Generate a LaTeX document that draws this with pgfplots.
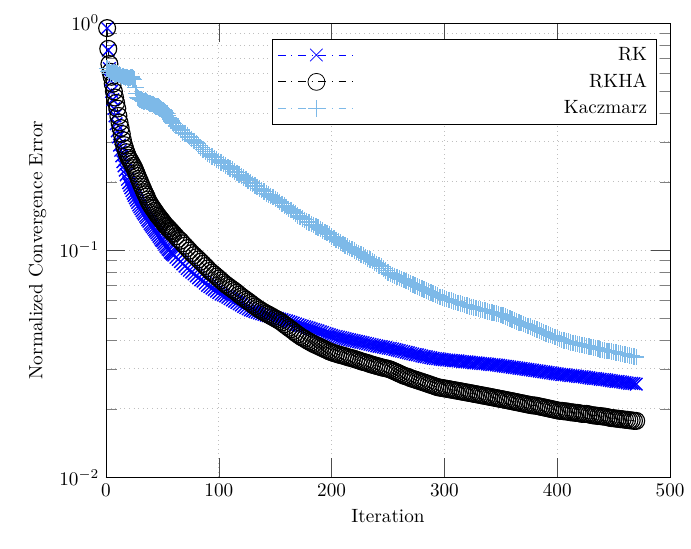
\documentclass[border=0pt]{standalone}
\usepackage{pgfplots}
\usepackage{pgfplotstable}
\pgfplotsset{compat=1.18}
\definecolor{kac}{RGB}{125,185,232}
\pgfplotstableread{
x rk rkha kac
1 0.95 0.95 0.63
2 0.76 0.77 0.61
3 0.63 0.66 0.62
4 0.56 0.61 0.60
5 0.50 0.58 0.61
6 0.46 0.54 0.60
7 0.42 0.50 0.61
8 0.39 0.47 0.59
9 0.36 0.445 0.60
10 0.335 0.42 0.60
11 0.315 0.39 0.59
12 0.29 0.365 0.595
13 0.275 0.345 0.59
14 0.26 0.325 0.58
15 0.245 0.305 0.585
16 0.235 0.29 0.58
17 0.225 0.28 0.575
18 0.215 0.27 0.58
19 0.205 0.262 0.575
20 0.198 0.255 0.57
21 0.193 0.25 0.572
22 0.188 0.245 0.575
23 0.183 0.24 0.578
24 0.178 0.235 0.57
25 0.174 0.23 0.565
26 0.170 0.224 0.52
27 0.166 0.218 0.49
28 0.162 0.212 0.47
29 0.158 0.206 0.465
30 0.155 0.201 0.46
31 0.152 0.195 0.46
32 0.149 0.19 0.455
33 0.146 0.185 0.452
34 0.144 0.18 0.45
35 0.141 0.176 0.455
36 0.139 0.172 0.452
37 0.136 0.167 0.448
38 0.134 0.163 0.445
39 0.131 0.16 0.442
40 0.129 0.157 0.44
41 0.127 0.154 0.44
42 0.125 0.152 0.437
43 0.123 0.149 0.433
44 0.121 0.147 0.43
45 0.119 0.144 0.43
46 0.117 0.142 0.428
47 0.115 0.14 0.424
48 0.113 0.138 0.42
49 0.111 0.136 0.418
50 0.110 0.134 0.415
51 0.108 0.132 0.414
52 0.106 0.130 0.41
53 0.104 0.128 0.405
54 0.103 0.127 0.40
55 0.101 0.125 0.392
56 0.100 0.124 0.385
57 0.098 0.122 0.378
58 0.097 0.121 0.37
59 0.096 0.119 0.365
60 0.095 0.118 0.36
62 0.093 0.115 0.352
64 0.091 0.112 0.345
66 0.089 0.110 0.338
68 0.087 0.107 0.330
70 0.085 0.1045 0.326
72 0.083 0.102 0.322
74 0.0815 0.0995 0.315
76 0.080 0.097 0.308
78 0.0785 0.095 0.302
80 0.077 0.093 0.296
82 0.0755 0.091 0.289
84 0.074 0.089 0.283
86 0.073 0.087 0.277
88 0.0715 0.085 0.272
90 0.070 0.083 0.267
92 0.069 0.081 0.262
94 0.068 0.0795 0.258
96 0.067 0.078 0.255
98 0.066 0.0765 0.251
100 0.065 0.075 0.247
102 0.064 0.0735 0.243
104 0.0635 0.0720 0.240
106 0.0628 0.0707 0.236
108 0.062 0.0695 0.232
110 0.0611 0.0683 0.229
112 0.0603 0.0672 0.226
114 0.0595 0.0661 0.222
116 0.0588 0.0650 0.219
118 0.058 0.0637 0.215
120 0.0573 0.0625 0.212
122 0.0565 0.0615 0.209
124 0.0558 0.0605 0.206
126 0.0551 0.0595 0.202
128 0.0545 0.0585 0.199
130 0.0541 0.0575 0.196
132 0.0537 0.0565 0.193
134 0.0532 0.0556 0.190
136 0.0528 0.0548 0.187
138 0.0524 0.054 0.184
140 0.0521 0.0533 0.181
142 0.0517 0.0526 0.178
144 0.0514 0.0520 0.176
146 0.051 0.0513 0.173
148 0.0506 0.0507 0.171
150 0.0503 0.05 0.168
152 0.0500 0.0494 0.166
154 0.0497 0.0487 0.163
156 0.0494 0.0480 0.160
158 0.0491 0.0471 0.157
160 0.0488 0.0463 0.155
162 0.0484 0.0455 0.152
164 0.0481 0.0448 0.150
166 0.0477 0.044 0.147
168 0.0473 0.0432 0.145
170 0.0469 0.0425 0.142
172 0.0466 0.0418 0.140
174 0.0463 0.0412 0.138
176 0.0460 0.0407 0.136
178 0.0457 0.0401 0.134
180 0.0454 0.0396 0.132
182 0.045 0.0391 0.130
184 0.0447 0.0386 0.129
186 0.0444 0.0382 0.127
188 0.0441 0.0378 0.126
190 0.0437 0.0374 0.124
192 0.0434 0.0370 0.122
194 0.043 0.0366 0.120
196 0.0427 0.0362 0.119
198 0.0424 0.0358 0.117
200 0.0421 0.0355 0.115
202 0.0418 0.0352 0.113
204 0.0416 0.0350 0.111
206 0.0414 0.0347 0.1095
208 0.0412 0.0345 0.108
210 0.041 0.0343 0.1065
212 0.0407 0.0341 0.105
214 0.0405 0.0338 0.1035
216 0.0403 0.0336 0.102
218 0.0401 0.0334 0.101
220 0.0399 0.0332 0.0995
222 0.0397 0.0329 0.0982
224 0.0395 0.0327 0.0970
226 0.0393 0.0324 0.0957
228 0.0391 0.0322 0.0945
230 0.0389 0.032 0.0932
232 0.0387 0.0318 0.0920
234 0.0385 0.0315 0.0907
236 0.0383 0.0313 0.0895
238 0.0381 0.0311 0.0882
240 0.0379 0.0309 0.0870
242 0.0377 0.0307 0.0857
244 0.0376 0.0305 0.0845
246 0.0374 0.0303 0.0828
248 0.0372 0.0302 0.0812
250 0.037 0.03 0.0798
252 0.0369 0.0298 0.0784
254 0.0367 0.0295 0.0776
256 0.0365 0.0292 0.0768
258 0.0363 0.0289 0.076
260 0.0361 0.0286 0.0752
262 0.0359 0.0283 0.0745
264 0.0357 0.0280 0.0738
266 0.0355 0.0278 0.073
268 0.0353 0.0276 0.0722
270 0.0351 0.0273 0.0714
272 0.0349 0.0271 0.0707
274 0.0347 0.0269 0.0699
276 0.0346 0.0267 0.0692
278 0.0344 0.0265 0.0684
280 0.0342 0.0263 0.0677
282 0.034 0.0261 0.067
284 0.0339 0.0259 0.0664
286 0.0337 0.0257 0.0657
288 0.0336 0.0255 0.0651
290 0.0334 0.0253 0.0644
292 0.0333 0.0251 0.0637
294 0.0332 0.0249 0.063
296 0.0331 0.0248 0.0623
298 0.033 0.0247 0.0618
300 0.0329 0.0246 0.0613
302 0.0328 0.0245 0.0608
304 0.0328 0.0244 0.0604
306 0.0327 0.0243 0.0599
308 0.0326 0.0242 0.0595
310 0.0325 0.0241 0.059
312 0.0325 0.0240 0.0586
314 0.0324 0.0239 0.0582
316 0.0323 0.0238 0.0578
318 0.0322 0.0237 0.0574
320 0.0322 0.0236 0.0570
322 0.0321 0.0235 0.0566
324 0.0320 0.0234 0.0562
326 0.0319 0.0233 0.0558
328 0.0319 0.0232 0.0555
330 0.0318 0.0231 0.0551
332 0.0317 0.0230 0.0548
334 0.0316 0.0229 0.0544
336 0.0316 0.0228 0.0541
338 0.0315 0.0227 0.0538
340 0.0314 0.0226 0.0535
342 0.0313 0.0225 0.0532
344 0.0313 0.0224 0.0529
346 0.0312 0.0223 0.0526
348 0.0311 0.0222 0.0523
350 0.031 0.0221 0.0518
352 0.0309 0.0220 0.0514
354 0.0308 0.0219 0.0509
356 0.0307 0.0218 0.0504
358 0.0306 0.0217 0.05
360 0.0305 0.0216 0.0495
362 0.0304 0.0215 0.049
364 0.0303 0.0214 0.0486
366 0.0302 0.0213 0.0481
368 0.0301 0.0212 0.0477
370 0.03 0.0211 0.0472
372 0.0299 0.0210 0.0468
374 0.0298 0.0209 0.0464
376 0.0297 0.0208 0.0460
378 0.0296 0.0207 0.0455
380 0.0295 0.0207 0.0451
382 0.0294 0.0206 0.0446
384 0.0293 0.0205 0.0442
386 0.0292 0.0204 0.0438
388 0.0291 0.0203 0.0434
390 0.029 0.0202 0.043
392 0.0289 0.0201 0.0426
394 0.0288 0.02 0.0422
396 0.0287 0.0199 0.0418
398 0.0286 0.0198 0.0414
400 0.0285 0.0197 0.0410
402 0.0284 0.0196 0.0406
404 0.0283 0.0196 0.0402
406 0.0283 0.0195 0.04
408 0.0282 0.0195 0.0397
410 0.0281 0.0194 0.0395
412 0.0280 0.0193 0.0392
414 0.028 0.0193 0.039
416 0.0279 0.0192 0.0388
418 0.0278 0.0192 0.0386
420 0.0277 0.0191 0.0384
422 0.0277 0.019 0.0382
424 0.0276 0.0190 0.0380
426 0.0275 0.019 0.0378
428 0.0274 0.0189 0.0376
430 0.0273 0.0188 0.0374
432 0.0272 0.0187 0.0372
434 0.0272 0.0187 0.037
436 0.0271 0.0186 0.0368
438 0.027 0.0186 0.0366
440 0.0269 0.0185 0.0364
442 0.0269 0.0185 0.0362
444 0.0268 0.0184 0.0360
446 0.0267 0.0183 0.0359
448 0.0266 0.0182 0.0357
450 0.0265 0.0182 0.0356
452 0.0264 0.0181 0.0354
454 0.0264 0.0181 0.0353
456 0.0263 0.0180 0.0351
458 0.0262 0.018 0.0349
460 0.0261 0.0179 0.0347
462 0.026 0.0179 0.0346
464 0.0259 0.0178 0.0344
466 0.0259 0.0178 0.0342
468 0.0258 0.0177 0.0340
470 0.0257 0.0177 0.0338
}\data
\begin{document}
\begin{tikzpicture}
\begin{axis}[
  scale only axis,
  width=293.75pt, height=236.5pt,
  xmin=0, xmax=500,
  ymode=log, ymin=0.01, ymax=1,
  xtick={0,100,200,300,400,500},
  ytick={0.01,0.1,1},
  yminorticks=true,
  xmajorgrids, ymajorgrids, yminorgrids,
  grid style={dotted, black!25},
  major tick length=10pt, minor tick length=5.5pt,
  major tick style={black!70},
  xlabel={Iteration},
  ylabel={Normalized Convergence Error},
  legend style={at={(0.977,0.965)}, anchor=north east, legend cell align=right, draw=black, row sep=1.5pt},
  legend image code/.code={\draw[mark repeat=2,mark phase=2,/tikz/every mark/.append style={line width=0.4pt}] plot coordinates {(0pt,0pt) (20pt,0pt) (40pt,0pt)};},
]
\addplot[color=blue, dash pattern=on 4pt off 3pt on 0.5pt off 3pt, mark=x, mark size=4.6pt, mark options={solid, line width=0.7pt}] table[x=x,y=rk]{\data};
\addlegendentry{\makebox[150pt][r]{RK}}
\addplot[color=black, dash pattern=on 4pt off 3pt on 0.5pt off 3pt, mark=o, mark size=4.4pt, mark options={solid, line width=0.6pt}] table[x=x,y=rkha]{\data};
\addlegendentry{\makebox[150pt][r]{RKHA}}
\addplot[color=kac, dash pattern=on 4pt off 3pt on 0.5pt off 3pt, mark=+, mark size=4.3pt, mark options={solid, line width=0.7pt}] table[x=x,y=kac]{\data};
\addlegendentry{\makebox[150pt][r]{Kaczmarz}}
\end{axis}
\pgfresetboundingbox
\useasboundingbox ([xshift=-55.2pt,yshift=-37pt]current axis.south west) rectangle ([xshift=10.9pt,yshift=12pt]current axis.north east);
\end{tikzpicture}
\end{document}
